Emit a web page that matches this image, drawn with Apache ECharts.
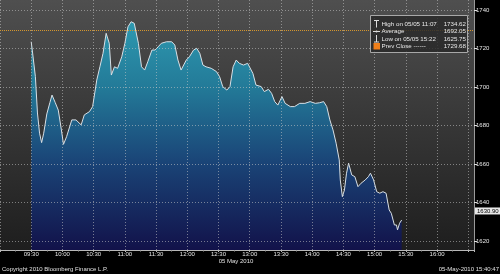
<!DOCTYPE html>
<html><head><meta charset="utf-8">
<script src="https://cdn.jsdelivr.net/npm/echarts@6/dist/echarts.min.js"></script>
<style>html,body{margin:0;padding:0;background:#000;overflow:hidden}#c{width:500px;height:274px}</style>
</head><body><div id="c"></div>
<script>
const times = ['09:30','09:31','09:34','09:36','09:38','09:40','09:42','09:45','09:48','09:50','09:53','09:56','09:59','10:01','10:04','10:09','10:13','10:18','10:21','10:26','10:29','10:33','10:36','10:39','10:42','10:45','10:47','10:50','10:53','10:57','11:00','11:03','11:06','11:07','11:09','11:13','11:16','11:19','11:22','11:26','11:29','11:32','11:35','11:40','11:45','11:48','11:51','11:54','11:59','12:02','12:06','12:09','12:12','12:15','12:18','12:23','12:28','12:31','12:34','12:38','12:41','12:44','12:47','12:50','12:54','12:58','13:03','13:06','13:11','13:14','13:18','13:21','13:24','13:27','13:31','13:34','13:39','13:43','13:48','13:53','13:58','14:03','14:07','14:11','14:14','14:17','14:20','14:23','14:26','14:27','14:29','14:31','14:33','14:35','14:38','14:41','14:44','14:47','14:51','14:54','14:56','14:59','15:02','15:05','15:08','15:11','15:14','15:16','15:19','15:21','15:22','15:24','15:26'];
const prices = [1723.5,1719.2,1705.4,1686.5,1676.0,1671.1,1676.0,1686.0,1692.0,1695.8,1692.0,1688.0,1677.7,1670.2,1674.2,1682.9,1682.9,1680.3,1685.5,1687.2,1689.8,1703.6,1710.5,1717.5,1727.9,1722.7,1706.2,1710.5,1709.7,1715.7,1722.7,1731.3,1733.9,1734.62,1733.1,1722.7,1710.5,1708.8,1713.1,1719.2,1719.2,1720.9,1722.7,1723.5,1723.5,1721.8,1714.0,1708.8,1714.0,1715.7,1719.2,1720.1,1717.5,1711.4,1710.5,1709.7,1708.0,1705.4,1700.2,1698.4,1700.2,1710.5,1714.0,1712.3,1711.4,1712.3,1707.1,1701.0,1700.2,1697.6,1698.8,1696.7,1692.4,1690.6,1695.0,1691.5,1689.8,1689.8,1691.5,1691.5,1692.4,1691.5,1691.8,1692.4,1689.8,1682.9,1677.7,1670.8,1662.1,1651.7,1643.0,1646.5,1655.2,1660.4,1654.3,1653.4,1648.2,1650.0,1651.7,1653.4,1655.2,1651.7,1645.6,1644.8,1645.6,1644.8,1636.1,1634.4,1628.3,1628.3,1625.75,1629.2,1630.9];
const yTicks = [1620,1640,1660,1680,1700,1720,1740];
const xTickLabels = ['09:30','10:00','10:30','11:00','11:30','12:00','12:30','13:00','13:30','14:00','14:30','15:00','15:30','16:00'];
const prevClose = 1729.68;
const lastValue = '1630.90';
const legendLabels = ['High on 05/05 11:07','Average','Low on 05/05 15:22','Prev Close ------'];
const legendValues = ['1734.62','1692.05','1625.75','1729.68'];
const dateLabel = '05 May 2010';
const copyright = 'Copyright 2010 Bloomberg Finance L.P.';
const stamp = '05-May-2010 15:40:47';

const toMin = t => { const [h,m] = t.split(':').map(Number); return h*60+m; };
const fmt = v => { const h = Math.floor(v/60), m = Math.round(v%60); return String(h).padStart(2,'0')+':'+String(m).padStart(2,'0'); };
const FONT = '"Liberation Sans", Arial, sans-serif';

const chart = echarts.init(document.getElementById('c'), null, {renderer:'canvas'});
const data = times.map((t,i)=>[toMin(t), prices[i]]);
const gridLine = {show:true,lineStyle:{color:'rgba(200,200,200,0.55)',type:[1,2],width:1}};

const option = {
  backgroundColor:'#000',
  animation:false,
  grid:{left:0,right:26,top:0,bottom:24,show:true,borderWidth:0,
    backgroundColor:{type:'linear',x:0,y:0,x2:0,y2:1,colorStops:[{offset:0,color:'#4f4f4f'},{offset:1,color:'#1e1e1e'}]}},
  xAxis:{type:'value',min:540,max:995.5,interval:30,z:5,
    axisLine:{show:true,lineStyle:{color:'#b8b8b8',width:1}},
    axisTick:{show:true,length:2,lineStyle:{color:'#b8b8b8'}},
    minorTick:{show:true,splitNumber:2,length:1.5,lineStyle:{color:'#999'}},
    axisLabel:{customValues:xTickLabels.map(toMin),formatter:v=>fmt(v),color:'#e6e6e6',fontSize:6,fontFamily:FONT,margin:1},
    splitLine:gridLine},
  yAxis:{type:'value',position:'right',min:1615.3,max:1745.2,z:5,
    axisLine:{show:true,lineStyle:{color:'#9a9a9a',width:1}},
    axisTick:{show:true,length:3,customValues:yTicks,lineStyle:{color:'#e0e0e0'}},
    axisLabel:{customValues:yTicks,formatter:v=>String(v),color:'#e6e6e6',fontSize:6,fontFamily:FONT,margin:2},
    splitLine:gridLine},
  series:[{type:'line',data:data,showSymbol:false,z:2,
    lineStyle:{color:'#d8e0e6',width:1},
    areaStyle:{origin:'start',opacity:1,color:{type:'linear',x:0,y:0,x2:0,y2:250,global:true,colorStops:[
      {offset:0,color:'#31a3b8'},{offset:0.35,color:'#237a98'},{offset:0.65,color:'#1a4477'},{offset:1,color:'#12124a'}]}},
    markLine:{silent:true,symbol:'none',label:{show:false},z:6,
      lineStyle:{color:'#d4962e',type:[1,1],width:1},data:[{yAxis:prevClose}]}}]
};
chart.setOption(option);

const g = [];
g.push({type:'rect',shape:{x:370.5,y:15.5,width:97,height:37},z:20,
  style:{fill:'rgba(40,40,40,0.82)',stroke:'#a8a8a8',lineWidth:1}});
const rowY = [24,31.5,38.8,46];
legendLabels.forEach((lab,i)=>{
  g.push({type:'text',x:381.5,y:rowY[i],z:21,style:{text:lab,fill:'#e8e8e8',font:'6.2px '+FONT,textVerticalAlign:'middle'}});
  g.push({type:'text',x:466,y:rowY[i],z:21,style:{text:legendValues[i],fill:'#e8e8e8',font:'6.2px '+FONT,textAlign:'right',textVerticalAlign:'middle'}});
});
g.push({type:'line',z:21,shape:{x1:376.5,y1:20.5,x2:376.5,y2:27.5},style:{stroke:'#ddd',lineWidth:1}});
g.push({type:'line',z:21,shape:{x1:374,y1:20.5,x2:379,y2:20.5},style:{stroke:'#ddd',lineWidth:1}});
g.push({type:'line',z:21,shape:{x1:373,y1:31.5,x2:380,y2:31.5},style:{stroke:'#ddd',lineWidth:1}});
g.push({type:'circle',z:21,shape:{cx:376.5,cy:31.5,r:1},style:{fill:'#ddd'}});
g.push({type:'line',z:21,shape:{x1:376.5,y1:35,x2:376.5,y2:42},style:{stroke:'#ddd',lineWidth:1}});
g.push({type:'line',z:21,shape:{x1:374,y1:42,x2:379,y2:42},style:{stroke:'#ddd',lineWidth:1}});
g.push({type:'rect',z:21,shape:{x:373.5,y:43,width:6.5,height:6.5},style:{fill:'#f07f1a'}});
g.push({type:'text',x:2,y:269,style:{text:copyright,fill:'#e0e0e0',font:'6px '+FONT,textVerticalAlign:'middle'}});
g.push({type:'text',x:236,y:261,style:{text:dateLabel,fill:'#e0e0e0',font:'6px '+FONT,textAlign:'center',textVerticalAlign:'middle'}});
g.push({type:'text',x:499,y:269,style:{text:stamp,fill:'#e0e0e0',font:'6px '+FONT,textAlign:'right',textVerticalAlign:'middle'}});
const ly = chart.convertToPixel({yAxisIndex:0}, parseFloat(lastValue)) - 9;
g.push({type:'rect',z:22,shape:{x:475,y:ly-3.5,width:25,height:7},style:{fill:'#e8e8e8'}});
g.push({type:'text',z:23,x:477,y:ly,style:{text:lastValue,fill:'#000',font:'6px '+FONT,textVerticalAlign:'middle'}});
chart.setOption({graphic:g});
</script></body></html>
